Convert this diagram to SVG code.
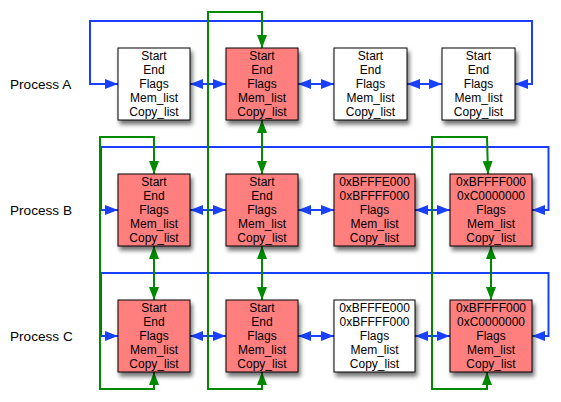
<svg xmlns="http://www.w3.org/2000/svg" width="561" height="402" viewBox="0 0 561 402">
<defs>
<style>
.box{stroke:#000;stroke-width:1}
.red{fill:#ff7f7f}
.white{fill:#fff}
.t{font-family:"Liberation Sans",Arial,sans-serif;font-size:12px;fill:#000;text-anchor:middle}
.lbl{font-family:"Liberation Sans",Arial,sans-serif;font-size:13.6px;fill:#000}
.blue{fill:none;stroke:#1a40ff;stroke-width:2;marker-start:url(#ab);marker-end:url(#ab)}
.green{fill:none;stroke:#008a00;stroke-width:2;marker-start:url(#ag);marker-end:url(#ag)}
</style>
<filter id="sh" x="-20%" y="-20%" width="150%" height="150%">
<feDropShadow dx="2" dy="4" stdDeviation="2.2" flood-color="#000" flood-opacity="0.55"/>
</filter>
<marker id="ab" markerUnits="userSpaceOnUse" markerWidth="14" markerHeight="12" viewBox="0 0 14 12" refX="13" refY="6" orient="auto-start-reverse">
<path d="M0,1 L13,6 L0,11 Z" fill="#1a40ff"/>
</marker>
<marker id="ag" markerUnits="userSpaceOnUse" markerWidth="14" markerHeight="12" viewBox="0 0 14 12" refX="13" refY="6" orient="auto-start-reverse">
<path d="M0,1 L13,6 L0,11 Z" fill="#008a00"/>
</marker>
</defs>
<rect width="561" height="402" fill="#fff"/>

<g id="labels">
<text class="lbl" x="10" y="89">Process A</text>
<text class="lbl" x="10" y="215">Process B</text>
<text class="lbl" x="10" y="341">Process C</text>
</g>

<g id="connectors">
<!-- blue loops -->
<path class="blue" d="M118,84 H90 V21 H532 V84 H515"/>
<path class="blue" d="M118,210 H101 V147 H548.5 V210 H532"/>
<path class="blue" d="M118,336 H101 V273 H548.5 V336 H532"/>
<!-- blue row links -->
<path class="blue" d="M190,84 H226"/>
<path class="blue" d="M298,84 H334"/>
<path class="blue" d="M407,84 H442"/>
<path class="blue" d="M190,210 H226"/>
<path class="blue" d="M298,210 H334"/>
<path class="blue" d="M415,210 H450"/>
<path class="blue" d="M190,336 H226"/>
<path class="blue" d="M298,336 H334"/>
<path class="blue" d="M415,336 H450"/>
<!-- green loops -->
<path class="green" d="M154,174 V137 H100 V389 H154 V372"/>
<path class="green" d="M262,48 V12 H208 V389 H262 V372"/>
<path class="green" d="M488,174 L487,137 H432 V389 H487 V372"/>
<!-- green column links -->
<path class="green" d="M154,246 V300"/>
<path class="green" d="M262,120 V174"/>
<path class="green" d="M262,246 V300"/>
<path class="green" d="M491,246 V300"/>
</g>

<g id="A1"><rect class="box white" filter="url(#sh)" x="118" y="48" width="72" height="72"/>
<text class="t" x="154" y="60">Start</text><text class="t" x="154" y="74">End</text><text class="t" x="154" y="88">Flags</text><text class="t" x="154" y="102">Mem_list</text><text class="t" x="154" y="116">Copy_list</text></g>
<g id="A2"><rect class="box red" filter="url(#sh)" x="226" y="48" width="72" height="72"/>
<text class="t" x="262" y="60">Start</text><text class="t" x="262" y="74">End</text><text class="t" x="262" y="88">Flags</text><text class="t" x="262" y="102">Mem_list</text><text class="t" x="262" y="116">Copy_list</text></g>
<g id="A3"><rect class="box white" filter="url(#sh)" x="334" y="48" width="73" height="72"/>
<text class="t" x="370.5" y="60">Start</text><text class="t" x="370.5" y="74">End</text><text class="t" x="370.5" y="88">Flags</text><text class="t" x="370.5" y="102">Mem_list</text><text class="t" x="370.5" y="116">Copy_list</text></g>
<g id="A4"><rect class="box white" filter="url(#sh)" x="442" y="48" width="73" height="72"/>
<text class="t" x="478.5" y="60">Start</text><text class="t" x="478.5" y="74">End</text><text class="t" x="478.5" y="88">Flags</text><text class="t" x="478.5" y="102">Mem_list</text><text class="t" x="478.5" y="116">Copy_list</text></g>

<g id="B1"><rect class="box red" filter="url(#sh)" x="118" y="174" width="72" height="72"/>
<text class="t" x="154" y="186">Start</text><text class="t" x="154" y="200">End</text><text class="t" x="154" y="214">Flags</text><text class="t" x="154" y="228">Mem_list</text><text class="t" x="154" y="242">Copy_list</text></g>
<g id="B2"><rect class="box red" filter="url(#sh)" x="226" y="174" width="72" height="72"/>
<text class="t" x="262" y="186">Start</text><text class="t" x="262" y="200">End</text><text class="t" x="262" y="214">Flags</text><text class="t" x="262" y="228">Mem_list</text><text class="t" x="262" y="242">Copy_list</text></g>
<g id="B3"><rect class="box red" filter="url(#sh)" x="334" y="174" width="81" height="72"/>
<text class="t" x="374.5" y="186">0xBFFFE000</text><text class="t" x="374.5" y="200">0xBFFFF000</text><text class="t" x="374.5" y="214">Flags</text><text class="t" x="374.5" y="228">Mem_list</text><text class="t" x="374.5" y="242">Copy_list</text></g>
<g id="B4"><rect class="box red" filter="url(#sh)" x="450" y="174" width="82" height="72"/>
<text class="t" x="491" y="186">0xBFFFF000</text><text class="t" x="491" y="200">0xC0000000</text><text class="t" x="491" y="214">Flags</text><text class="t" x="491" y="228">Mem_list</text><text class="t" x="491" y="242">Copy_list</text></g>

<g id="C1"><rect class="box red" filter="url(#sh)" x="118" y="300" width="72" height="72"/>
<text class="t" x="154" y="312">Start</text><text class="t" x="154" y="326">End</text><text class="t" x="154" y="340">Flags</text><text class="t" x="154" y="354">Mem_list</text><text class="t" x="154" y="368">Copy_list</text></g>
<g id="C2"><rect class="box red" filter="url(#sh)" x="226" y="300" width="72" height="72"/>
<text class="t" x="262" y="312">Start</text><text class="t" x="262" y="326">End</text><text class="t" x="262" y="340">Flags</text><text class="t" x="262" y="354">Mem_list</text><text class="t" x="262" y="368">Copy_list</text></g>
<g id="C3"><rect class="box white" filter="url(#sh)" x="334" y="300" width="81" height="72"/>
<text class="t" x="374.5" y="312">0xBFFFE000</text><text class="t" x="374.5" y="326">0xBFFFF000</text><text class="t" x="374.5" y="340">Flags</text><text class="t" x="374.5" y="354">Mem_list</text><text class="t" x="374.5" y="368">Copy_list</text></g>
<g id="C4"><rect class="box red" filter="url(#sh)" x="450" y="300" width="82" height="72"/>
<text class="t" x="491" y="312">0xBFFFF000</text><text class="t" x="491" y="326">0xC0000000</text><text class="t" x="491" y="340">Flags</text><text class="t" x="491" y="354">Mem_list</text><text class="t" x="491" y="368">Copy_list</text></g>
</svg>
